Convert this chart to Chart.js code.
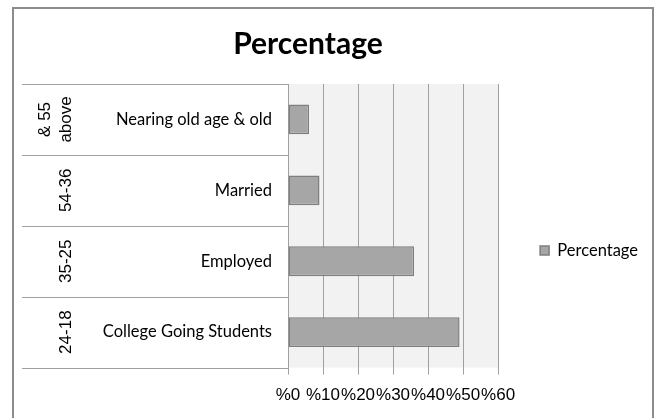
<!DOCTYPE html>
<html>
<head>
<meta charset="utf-8">
<title>Percentage</title>
<script src="https://cdn.jsdelivr.net/npm/chart.js@4/dist/chart.umd.min.js"></script>
<style>
  html, body { margin: 0; padding: 0; background: #fff; overflow: hidden; }
  #wrap { position: relative; width: 656px; height: 418px; overflow: hidden; }
  #chart { display: block; }
  #frame {
    position: absolute; left: 12px; top: 7px; width: 638px; height: 430px;
    border: 2px solid #8c8c8c; pointer-events: none;
  }
</style>
</head>
<body>
<div id="wrap">
  <canvas id="chart" width="656" height="418"></canvas>
  <div id="frame"></div>
</div>
<script>
// groups, top to bottom
const groups = ['Nearing old age & old', 'Married', 'Employed', 'College Going Students'];
const ageRanges = [['& 55', 'above'], '54-36', '35-25', '24-18'];
const percentages = [6, 9, 36, 49];
const seriesName = 'Percentage';
const chartTitle = 'Percentage';

document.addEventListener("DOMContentLoaded", function() {
    const ctx = document.getElementById('chart').getContext('2d');

    // grey plot background
    const plotBackground = {
        id: 'plotBackground',
        beforeDraw(chart) {
            const {ctx, chartArea: a} = chart;
            ctx.save();
            ctx.fillStyle = '#f2f2f2';
            ctx.fillRect(a.left, a.top, a.right - a.left, a.bottom - a.top);
            ctx.restore();
        }
    };

    // row dividers plus the rotated age ranges in the outer label column
    const ageColumn = {
        id: 'ageColumn',
        afterDraw(chart) {
            const {ctx, chartArea: a} = chart;
            const y = chart.scales.y;
            const half = (y.getPixelForValue(1) - y.getPixelForValue(0)) / 2;
            ctx.save();
            ctx.strokeStyle = '#a0a0a0';
            ctx.lineWidth = 1;
            ctx.beginPath();
            for (let i = 0; i <= groups.length; i++) {
                const py = Math.round(y.getPixelForValue(i) - half) + 0.5;
                ctx.moveTo(y.left, py);
                ctx.lineTo(a.left, py);
            }
            ctx.stroke();

            ctx.fillStyle = '#000';
            ctx.font = '17px "Liberation Sans", Arial, sans-serif';
            ctx.textAlign = 'center';
            ctx.textBaseline = 'middle';
            ageRanges.forEach((label, i) => {
                const lines = Array.isArray(label) ? label : [label];
                const cy = y.getPixelForValue(i);
                lines.forEach((line, j) => {
                    const cx = y.left + 44 - (lines.length - 1 - j) * 21;
                    ctx.save();
                    ctx.translate(cx, cy);
                    ctx.rotate(-Math.PI / 2);
                    ctx.fillText(line, 0, 0);
                    ctx.restore();
                });
            });
            ctx.restore();
        }
    };

    // chart heading
    const heading = {
        id: 'heading',
        afterDraw(chart) {
            const c = chart.ctx;
            c.save();
            c.font = 'bold 30px Lato, "Noto Sans", sans-serif';
            c.fillStyle = '#000';
            c.textAlign = 'center';
            c.textBaseline = 'alphabetic';
            c.fillText(chartTitle, 308, 54);
            c.restore();
        }
    };

    new Chart(ctx, {
        type: 'bar',
        data: {
            labels: groups,
            datasets: [{
                label: seriesName,
                data: percentages,
                backgroundColor: '#a6a6a6',
                borderColor: '#7f7f7f',
                borderWidth: 1.5,
                borderSkipped: false,
                categoryPercentage: 1,
                barPercentage: 0.42
            }]
        },
        options: {
            indexAxis: 'y',
            responsive: false,
            animation: false,
            layout: {
                padding: { top: 84, left: 22, right: 8, bottom: 1 }
            },
            plugins: {
                title: { display: false },
                tooltip: { enabled: false },
                legend: {
                    position: 'right',
                    labels: {
                        boxWidth: 9,
                        boxHeight: 9,
                        padding: 42,
                        color: '#000',
                        font: { family: 'Lato, "Noto Sans", sans-serif', size: 16.5 }
                    }
                }
            },
            scales: {
                x: {
                    min: 0,
                    max: 60,
                    ticks: {
                        stepSize: 10,
                        padding: 11,
                        autoSkip: false,
                        minRotation: 0,
                        maxRotation: 0,
                        color: '#000',
                        font: { family: '"Liberation Sans", Arial, sans-serif', size: 17 },
                        callback: v => '%' + v
                    },
                    grid: { color: '#a0a0a0', tickLength: 7 },
                    border: { display: false }
                },
                y: {
                    afterFit: s => { s.width = 266; },
                    ticks: {
                        padding: 16,
                        color: '#000',
                        font: { family: 'Lato, "Noto Sans", sans-serif', size: 16.5 }
                    },
                    grid: { display: false, drawTicks: false },
                    border: { display: false }
                }
            }
        },
        plugins: [plotBackground, ageColumn, heading]
    });
});
</script>
</body>
</html>
